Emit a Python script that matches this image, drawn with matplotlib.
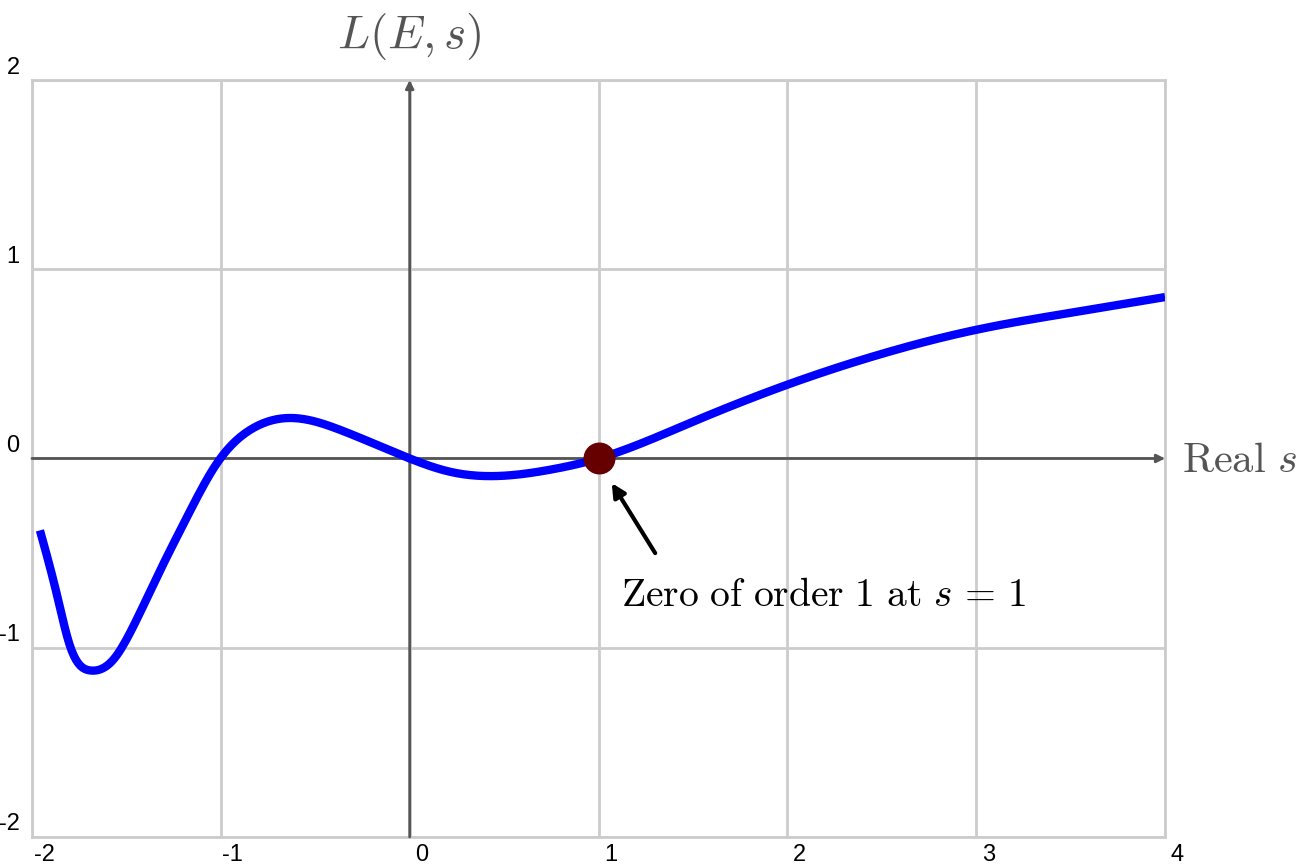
import numpy as np
import matplotlib.pyplot as plt
import matplotlib.transforms as mtransforms

plt.rcParams['mathtext.fontset'] = 'cm'

# values
s_vals = [-1.958, -1.868, -1.799, -1.693, -1.571, -1.465, -1.338, -1.179,
          -1.020, -0.845, -0.633, -0.368, 0.0, 0.217, 0.48, 0.74, 1.0, 1.49,
          2.0, 2.49, 3.0, 3.5, 4.0]
L_vals = [-0.38, -0.72, -0.99, -1.12, -1.065, -0.89, -0.626, -0.309,
          -0.024, 0.151, 0.214, 0.151, 0.0, -0.071, -0.092, -0.06, 0.0, 0.19,
          0.39, 0.55, 0.68, 0.77, 0.853]
x_ticks = [-2, -1, 0, 1, 2, 3, 4]
y_ticks = [-2, -1, 0, 1, 2]
zero_s = 1
zero_L = 0


def spline(xs, ys, n=500):
    # natural cubic spline through the read points
    xs = np.asarray(xs, float)
    ys = np.asarray(ys, float)
    k = len(xs)
    h = np.diff(xs)
    A = np.zeros((k, k))
    b = np.zeros(k)
    A[0, 0] = A[-1, -1] = 1
    for i in range(1, k - 1):
        A[i, i - 1] = h[i - 1]
        A[i, i] = 2 * (h[i - 1] + h[i])
        A[i, i + 1] = h[i]
        b[i] = 6 * ((ys[i + 1] - ys[i]) / h[i] - (ys[i] - ys[i - 1]) / h[i - 1])
    M = np.linalg.solve(A, b)
    xx = np.linspace(xs[0], xs[-1], n)
    idx = np.clip(np.searchsorted(xs, xx) - 1, 0, k - 2)
    x0, x1 = xs[idx], xs[idx + 1]
    hi = h[idx]
    yy = (M[idx] * (x1 - xx)**3 / (6 * hi) + M[idx + 1] * (xx - x0)**3 / (6 * hi)
          + (ys[idx] / hi - M[idx] * hi / 6) * (x1 - xx)
          + (ys[idx + 1] / hi - M[idx + 1] * hi / 6) * (xx - x0))
    return xx, yy


fig = plt.figure(figsize=(13.01, 8.64), dpi=100)
ax = fig.add_axes([0.0246, 0.0313, 0.8709, 0.8761])
ax.set_xlim(-2, 4)
ax.set_ylim(-2, 2)

ax.grid(True, color='#cccccc', lw=2)
for sp in ax.spines.values():
    sp.set_color('#cccccc')
    sp.set_linewidth(2)
ax.tick_params(length=0)

ax.set_xticks(x_ticks)
ax.set_xticklabels([str(v) for v in x_ticks], fontsize=17, family='Liberation Sans')
ax.set_yticks(y_ticks)
ax.set_yticklabels([str(v) for v in y_ticks], fontsize=17, family='Liberation Sans')
ax.tick_params(axis='x', pad=5)
ax.tick_params(axis='y', pad=9)
offx = mtransforms.ScaledTranslation(0.12, 0, fig.dpi_scale_trans)
for lab in ax.get_xticklabels():
    lab.set_transform(lab.get_transform() + offx)
offy = mtransforms.ScaledTranslation(0, 0.15, fig.dpi_scale_trans)
for lab in ax.get_yticklabels():
    lab.set_transform(lab.get_transform() + offy)

# coordinate axes with arrows
ax.annotate('', xy=(4, 0), xytext=(-2, 0),
            arrowprops=dict(arrowstyle='-|>', color='#555555', lw=2, mutation_scale=12,
                            shrinkA=0, shrinkB=0))
ax.annotate('', xy=(0, 2), xytext=(0, -2),
            arrowprops=dict(arrowstyle='-|>', color='#555555', lw=2, mutation_scale=12,
                            shrinkA=0, shrinkB=0))

xx, yy = spline(s_vals, L_vals)
ax.plot(xx, yy, color='#0000ff', lw=6, solid_capstyle='butt', zorder=3)
ax.plot([zero_s], [zero_L], 'o', color='#660000', ms=22, zorder=4)

ax.annotate('', xy=(zero_s + 0.07, zero_L - 0.13), xytext=(zero_s + 0.3, zero_L - 0.5),
            arrowprops=dict(arrowstyle='-|>', color='black', lw=3, mutation_scale=20,
                            shrinkA=0, shrinkB=0))
ax.text(zero_s + 0.12, zero_L - 0.72, r'$\mathrm{Zero\ of\ order\ 1\ at\ } s\,=\,1$',
        fontsize=28.5, color='black', ha='left', va='center')

ax.text(0, 2.23, r'$L(E,s)$', fontsize=34, color='#555555', ha='center', va='center',
        clip_on=False)
ax.text(4.09, -0.01, r'$\mathrm{Real}\ s$', fontsize=30.5, color='#555555', ha='left',
        va='center', clip_on=False)

fig.savefig('out.png', dpi=100)
